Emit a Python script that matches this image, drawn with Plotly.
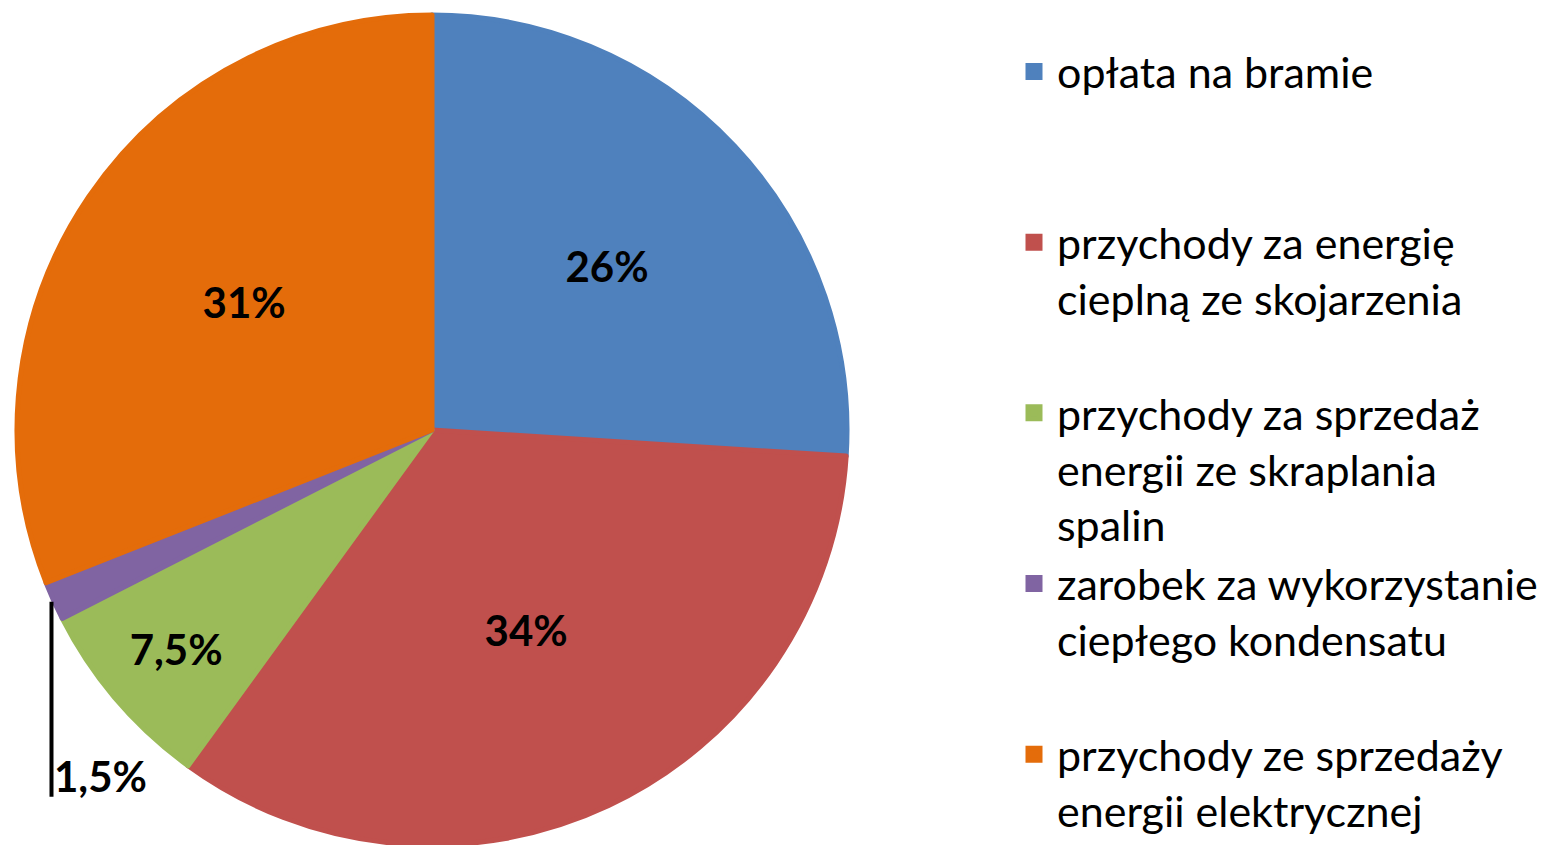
import math
import plotly.graph_objects as go

categories = [
    "opłata na bramie",
    "przychody za energię<br>cieplną ze skojarzenia",
    "przychody za sprzedaż<br>energii ze skraplania<br>spalin",
    "zarobek za wykorzystanie<br>ciepłego kondensatu",
    "przychody ze sprzedaży<br>energii elektrycznej",
]
values = [26, 34, 7.5, 1.5, 31]
pct_labels = ["26%", "34%", "7,5%", "1,5%", "31%"]
colors = ["#4F81BD", "#C0504D", "#9BBB59", "#8064A2", "#E46C0A"]

W, H = 1558, 845
ML, MR, MT, MB = 0, 0, 15, 0
PW, PH = W - ML - MR, H - MT - MB
CX_PX = 432
DOM_X = [0, 2 * CX_PX / PW]

# pad legend entries to three lines so entries are evenly spaced
legend_names = []
for i, c in enumerate(categories):
    n = c.count("<br>") + 1
    pad = max(0, 3 - n) if i < len(categories) - 1 else 0
    legend_names.append(c + "<br>&nbsp;" * pad)

outside_idx = 3
textpos = ["none" if i == outside_idx else "inside" for i in range(len(values))]

fig = go.Figure()
fig.add_trace(go.Pie(
    labels=legend_names,
    values=values,
    text=pct_labels,
    textinfo="text",
    textposition=textpos,
    insidetextorientation="horizontal",
    textfont=dict(family="Lato", size=42, color="#000000", weight="bold"),
    sort=False,
    direction="clockwise",
    rotation=0,
    marker=dict(colors=colors, line=dict(color=colors, width=5)),
    domain=dict(x=DOM_X, y=[0, 1]),
    hoverinfo="skip",
))

# leader line + label for the small slice, computed from the data
R = min(PW * (DOM_X[1] - DOM_X[0]), PH) / 2 + 2.5
CY_PX = MT + PH / 2
total = sum(values)
start = sum(values[:outside_idx])
theta = 2 * math.pi * (start + values[outside_idx] / 2) / total
ex = CX_PX + R * math.sin(theta)
ey = CY_PX - R * math.cos(theta)
line_len = 195


def px_to_paper(x, y):
    return (x - ML) / PW, 1 - (y - MT) / PH


x0, y0 = px_to_paper(ex, ey)
x1, y1 = px_to_paper(ex, ey + line_len)
fig.add_shape(type="line", xref="paper", yref="paper", x0=x0, y0=y0, x1=x1, y1=y1,
              line=dict(color="#000000", width=4))
fig.add_annotation(xref="paper", yref="paper", x=x1, y=y1, xanchor="left", yanchor="bottom",
                   text="<b>" + pct_labels[outside_idx] + "</b>", showarrow=False,
                   font=dict(family="Lato", size=42, color="#000000"), xshift=1, yshift=-6)

fig.update_layout(
    width=W, height=H,
    margin=dict(l=ML, r=MR, t=MT, b=MB),
    paper_bgcolor="white",
    plot_bgcolor="white",
    showlegend=True,
    legend=dict(
        x=1011 / PW, xanchor="left",
        y=0, yanchor="bottom",
        valign="top",
        itemwidth=36,
        font=dict(family="Lato", size=43, color="#000000"),
        tracegroupgap=0,
        itemclick=False,
        bgcolor="rgba(0,0,0,0)",
    ),
)

fig.write_html("out.html", config={"displayModeBar": False},
               post_script="document.body.style.margin='0';")
